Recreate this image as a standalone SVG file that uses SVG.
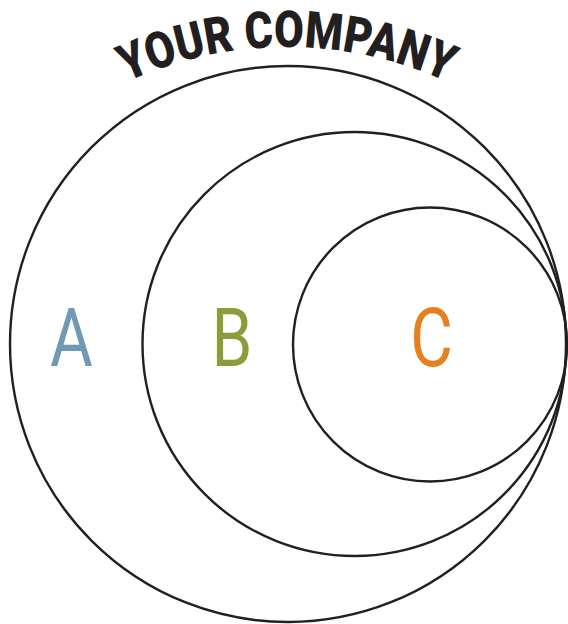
<svg xmlns="http://www.w3.org/2000/svg" width="568" height="624" viewBox="0 0 568 624">
<style>
.ring{fill:none;stroke:#231f20;stroke-width:2.4}
.lbl{font-family:Roboto,"Liberation Sans",sans-serif;font-size:82px;font-weight:400;text-anchor:middle}
.title{font-family:Roboto,"Liberation Sans",sans-serif;font-size:51px;font-weight:900;fill:#231f20}
</style>
<defs>
<path id="arc" d="M -46.4 239.5 A 385 385 0 0 1 620.4 239.5"/>
</defs>
<g id="title">
<text class="title"><textPath href="#arc" startOffset="50%" text-anchor="middle" textLength="330" lengthAdjust="spacingAndGlyphs">YOUR COMPANY</textPath></text>
</g>
<g id="circle-a">
<circle class="ring" cx="288" cy="344" r="278"/>
<text class="lbl" fill="#7299b4" transform="translate(71.5,366) scale(0.8,1)">A</text>
</g>
<g id="circle-b">
<circle class="ring" cx="354.5" cy="344" r="212"/>
<text class="lbl" fill="#8b9c3a" transform="translate(232,366) scale(0.8,1)">B</text>
</g>
<g id="circle-c">
<circle class="ring" cx="430" cy="344.5" r="137"/>
<text class="lbl" fill="#e6801e" transform="translate(431.5,366) scale(0.8,1)">C</text>
</g>
</svg>
